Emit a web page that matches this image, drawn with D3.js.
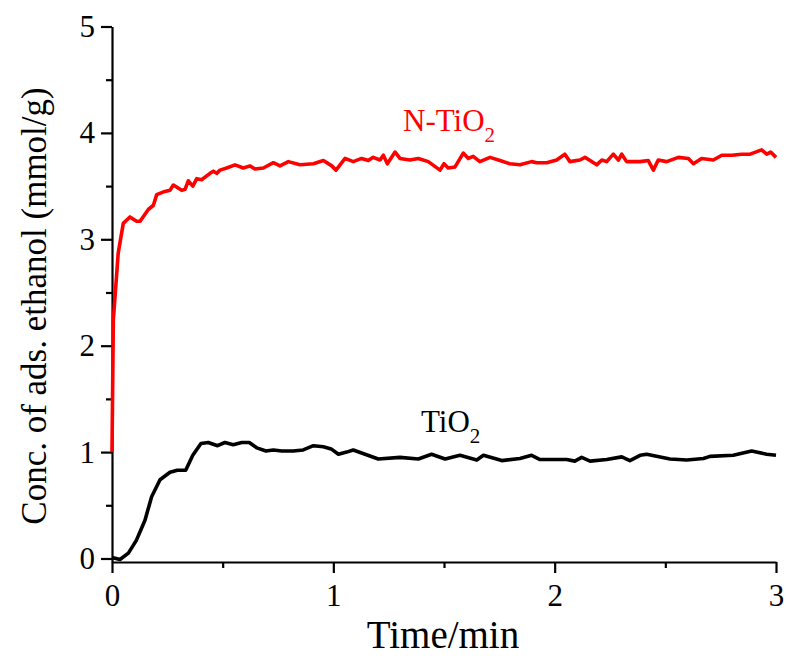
<!DOCTYPE html>
<html>
<head>
<meta charset="utf-8">
<script src="https://cdn.jsdelivr.net/npm/d3@7"></script>
<style>
  html, body { margin: 0; padding: 0; background: #fff; }
  svg { display: block; }
  text { font-family: "Liberation Serif", "Times New Roman", serif; }
</style>
</head>
<body>
<svg id="chart" width="786" height="658"></svg>
<script>
// ---- Data ----
const tio2Time = [0, 0.036, 0.074, 0.11, 0.149, 0.179, 0.217, 0.262, 0.295, 0.333, 0.365, 0.402, 0.435, 0.477, 0.51, 0.548, 0.586, 0.62, 0.654, 0.696, 0.729, 0.767, 0.819, 0.864, 0.91, 0.955, 0.99, 1.023, 1.06, 1.09, 1.203, 1.301, 1.384, 1.444, 1.505, 1.572, 1.648, 1.678, 1.761, 1.843, 1.896, 1.934, 2.054, 2.091, 2.122, 2.16, 2.235, 2.303, 2.34, 2.386, 2.416, 2.521, 2.597, 2.672, 2.702, 2.807, 2.89, 2.958, 3.0];
const tio2Conc = [0.01, -0.01, 0.05, 0.17, 0.36, 0.58, 0.74, 0.81, 0.83, 0.83, 0.97, 1.08, 1.09, 1.06, 1.09, 1.07, 1.09, 1.09, 1.04, 1.01, 1.02, 1.01, 1.01, 1.02, 1.06, 1.05, 1.03, 0.98, 1.0, 1.02, 0.935, 0.95, 0.935, 0.98, 0.935, 0.97, 0.925, 0.97, 0.92, 0.94, 0.97, 0.93, 0.93, 0.915, 0.95, 0.915, 0.93, 0.955, 0.92, 0.97, 0.98, 0.935, 0.925, 0.94, 0.96, 0.97, 1.01, 0.98, 0.97];

const ntio2Time = [0, 0.006, 0.028, 0.051, 0.081, 0.111, 0.127, 0.164, 0.187, 0.202, 0.239, 0.262, 0.277, 0.315, 0.33, 0.345, 0.365, 0.383, 0.405, 0.443, 0.458, 0.473, 0.488, 0.518, 0.556, 0.593, 0.624, 0.646, 0.684, 0.729, 0.759, 0.797, 0.849, 0.91, 0.955, 0.993, 1.012, 1.053, 1.09, 1.128, 1.158, 1.18, 1.211, 1.226, 1.244, 1.279, 1.301, 1.346, 1.384, 1.429, 1.482, 1.5, 1.519, 1.55, 1.587, 1.61, 1.632, 1.662, 1.708, 1.753, 1.798, 1.843, 1.896, 1.919, 1.964, 2.009, 2.046, 2.069, 2.114, 2.137, 2.16, 2.19, 2.213, 2.235, 2.265, 2.288, 2.303, 2.325, 2.386, 2.423, 2.446, 2.468, 2.506, 2.559, 2.604, 2.627, 2.664, 2.717, 2.755, 2.80, 2.845, 2.883, 2.935, 2.958, 2.976, 3.0];
const ntio2Conc = [1.0, 2.24, 2.87, 3.15, 3.21, 3.17, 3.17, 3.28, 3.32, 3.42, 3.45, 3.46, 3.51, 3.46, 3.47, 3.55, 3.50, 3.57, 3.56, 3.62, 3.64, 3.62, 3.65, 3.67, 3.70, 3.67, 3.69, 3.66, 3.67, 3.72, 3.69, 3.73, 3.70, 3.71, 3.74, 3.69, 3.65, 3.76, 3.73, 3.76, 3.74, 3.77, 3.745, 3.79, 3.71, 3.82, 3.76, 3.745, 3.76, 3.73, 3.65, 3.71, 3.67, 3.68, 3.81, 3.76, 3.78, 3.73, 3.77, 3.74, 3.71, 3.70, 3.73, 3.72, 3.72, 3.745, 3.80, 3.73, 3.745, 3.77, 3.74, 3.70, 3.745, 3.73, 3.80, 3.745, 3.80, 3.73, 3.73, 3.74, 3.65, 3.745, 3.73, 3.77, 3.76, 3.71, 3.76, 3.745, 3.79, 3.79, 3.80, 3.80, 3.84, 3.80, 3.82, 3.77];

const xTicks = [0, 1, 2, 3];
const xMinorTicks = [0.5, 1.5, 2.5];
const yTicks = [0, 1, 2, 3, 4, 5];
const yMinorTicks = [0.5, 1.5, 2.5, 3.5, 4.5];

const xTitle = "Time/min";
const yTitle = "Conc. of ads. ethanol (mmol/g)";

(function draw() {
  const svg = d3.select("#chart");
  const mLeft = 112, mRight = 776, mTop = 26.5, mBottom = 562;

  const x = d3.scaleLinear().domain([0, 3]).range([mLeft, mRight]);
  const y = d3.scaleLinear().domain([-0.033, 5]).range([mBottom, mTop]);

  const axisFont = 31;

  // minor ticks first
  svg.append("g").attr("transform", `translate(0,${mBottom})`)
    .call(d3.axisBottom(x).tickValues(xMinorTicks).tickSize(6).tickFormat(""))
    .call(g => g.select(".domain").remove());
  svg.append("g").attr("transform", `translate(${mLeft},0)`)
    .call(d3.axisLeft(y).tickValues(yMinorTicks).tickSize(6).tickFormat(""))
    .call(g => g.select(".domain").remove());

  svg.append("g").attr("transform", `translate(0,${mBottom})`)
    .call(d3.axisBottom(x).tickValues(xTicks).tickSizeInner(11).tickSizeOuter(0).tickPadding(11).tickFormat(d3.format("d")));
  svg.append("g").attr("transform", `translate(${mLeft},0)`)
    .call(d3.axisLeft(y).tickValues(yTicks).tickSizeInner(11).tickSizeOuter(0).tickPadding(6).tickFormat(d3.format("d")));

  svg.selectAll("g").attr("font-family", null).attr("font-size", null);
  svg.selectAll(".domain").attr("stroke", "#000").attr("stroke-width", 2.2);
  svg.selectAll(".tick line").attr("stroke", "#000").attr("stroke-width", 2.2);
  svg.selectAll(".tick text")
    .style("font-size", axisFont + "px")
    .style("font-family", "'Liberation Serif', serif").attr("fill", "#000");

  // Lines
  const line = d3.line().x(d => x(d[0])).y(d => y(d[1]));
  svg.append("path")
    .datum(tio2Time.map((t, i) => [t, tio2Conc[i]]))
    .attr("fill", "none").attr("stroke", "#000").attr("stroke-width", 3.6)
    .attr("stroke-linejoin", "round").attr("d", line);
  svg.append("path")
    .datum(ntio2Time.map((t, i) => [t, ntio2Conc[i]]))
    .attr("fill", "none").attr("stroke", "#ff0000").attr("stroke-width", 3.6)
    .attr("stroke-linejoin", "round").attr("d", line);

  // Titles
  svg.append("text").attr("x", 443).attr("y", 648).attr("text-anchor", "middle")
    .style("font-size", "39px").attr("fill", "#000").text(xTitle);
  svg.append("text").attr("transform", "translate(46,306) rotate(-90)").attr("text-anchor", "middle")
    .style("font-size", "35px").attr("fill", "#000").text(yTitle);

  // Series labels
  function label(px, py, base, color) {
    const t = svg.append("text").attr("x", px).attr("y", py).style("font-size", "31px").attr("fill", color);
    t.append("tspan").text(base);
    t.append("tspan").style("font-size", "21px").attr("dy", 11).text("2");
  }
  label(403, 131, "N-TiO", "#ff0000");
  label(421, 432, "TiO", "#000");
})();
</script>
</body>
</html>
